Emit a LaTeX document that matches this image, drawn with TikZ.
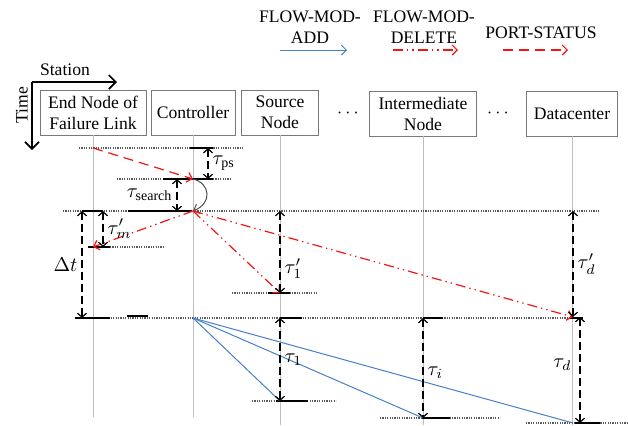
\documentclass[tikz,border=0pt]{standalone}
\usepackage{fontspec}
\setmainfont{Liberation Serif}
\usetikzlibrary{arrows.meta, positioning}
\definecolor{BleuAdd}{RGB}{70,128,200}
\definecolor{RougeMsg}{RGB}{245,20,20}
\definecolor{GrisVie}{RGB}{190,190,190}
\definecolor{GrisBoite}{RGB}{120,120,120}
\tikzset{boite/.style={rectangle, draw=GrisBoite, line width=0.4pt,
  align=center, minimum height=22.5pt, inner sep=1pt}}
\tikzset{vie/.style={draw=GrisVie, line width=0.4pt}}
\tikzset{niveau/.style={draw=black!65, line width=0.6pt, dash pattern=on 0.6pt off 0.6pt}}
\tikzset{seg/.style={draw=black, line width=0.9pt}}
\tikzset{mesure/.style={{Straight Barb[length=2pt,width=4.5pt]}-{Straight Barb[length=2pt,width=4.5pt]},
  draw=black, line width=0.6pt, dash pattern=on 4pt off 2pt}}
\tikzset{lab/.style={font=\fontsize{10}{12}\selectfont, inner sep=2pt}}
\tikzset{leg/.style={align=center, inner sep=1pt}}
\tikzset{fladd/.style={-{Straight Barb[length=2.5pt,width=5pt]}, draw=BleuAdd, line width=0.5pt}}
\tikzset{fldel/.style={-{Straight Barb[length=2.5pt,width=5pt]}, draw=RougeMsg, line width=0.6pt,
  dash pattern=on 5pt off 2pt on 0.7pt off 2pt on 0.7pt off 2pt}}
\tikzset{flps/.style={-{Straight Barb[length=2.5pt,width=5pt]}, draw=RougeMsg, line width=0.6pt,
  dash pattern=on 5pt off 3pt}}
\tikzset{axe/.style={-{Straight Barb[length=3.5pt,width=7pt]}, draw=black, line width=0.8pt}}

\begin{document}
\begin{tikzpicture}[x=0.5pt, y=-0.5pt, font=\fontsize{8.8}{10.5}\selectfont]
\useasboundingbox (0,0) rectangle (628,425);
% legende
\node[leg] (ladd) at (310,27) {FLOW-MOD-\\ADD};
\node[leg] (ldel) at (424,27) {FLOW-MOD-\\DELETE};
\node[leg] (lps) at (541,33) {PORT-STATUS};
\coordinate (la0) at (280,50); \coordinate (la1) at (347,50);
\coordinate (ld0) at (393,50); \coordinate (ld1) at (458,50);
\coordinate (lp0) at (503,50); \coordinate (lp1) at (568,50);
\draw[fladd] (la0)--(la1); \draw[fldel] (ld0)--(ld1); \draw[flps] (lp0)--(lp1);
% axes
\coordinate (orig) at (32,82); \coordinate (axS) at (117,82); \coordinate (axT) at (32,150);
\draw[axe] (orig)--(axS); \draw[axe] (orig)--(axT);
\node (station) at (65,70) {Station};
\node[rotate=90] (temps) at (22,105) {Time};
% postes
\node[boite, minimum width=53pt] (fin) at (93,112.5) {End Node of\\Failure Link};
\node[boite, minimum width=42pt] (ctl) at (193,112.5) {Controller};
\node[boite, minimum width=38.5pt] (src) at (280,112.5) {Source\\Node};
\node (pts1) at (348,113) {$\cdots$};
\node[boite, minimum width=53.5pt] (inter) at (423,113.5) {Intermediate\\Node};
\node (pts2) at (498,113) {$\cdots$};
\node[boite, minimum width=45.5pt] (dc) at (572,113.5) {Datacenter};
\coordinate (bas) at (0,417); \coordinate (bas2) at (0,425);
\draw[vie] (fin.south)--(fin.south |- bas); \draw[vie] (ctl.south)--(ctl.south |- bas);
\draw[vie] (src.south)--(src.south |- bas2); \draw[vie] (inter.south)--(inter.south |- bas2);
\draw[vie] (dc.south)--(dc.south |- bas2);
% niveaux de temps
\foreach \y/\a/\b in {148/79/243, 179/117/230, 211/63/600, 247/110/163, 293/232/317,
  318/106/582, 401/252/336, 418/380/500, 423/526/628}
  \draw[niveau] (\a,\y)--(\b,\y);
\foreach \y/\a/\b in {148/190/213, 179/163/213, 211/128/192, 211/82/103, 247/88/110,
  293/268/290, 318/75/110, 316/127/148, 318/280/302, 318/423/443, 318/570/583,
  401/276/308, 418/422/450, 423/575/600}
  \draw[seg] (\a,\y)--(\b,\y);
% evenements
\coordinate (f0) at (93,211); \coordinate (f1) at (93,148);
\coordinate (f2) at (93,247); \coordinate (f3) at (93,318);
\coordinate (c0) at (193,148); \coordinate (c1) at (193,179);
\coordinate (c2) at (193,211); \coordinate (c3) at (193,318);
\coordinate (s0) at (280,211); \coordinate (s1) at (280,293);
\coordinate (s3) at (280,318); \coordinate (s2) at (280,401);
\coordinate (i3) at (423,318); \coordinate (i2) at (423,418);
\coordinate (d0) at (573,211); \coordinate (d1) at (573,317); \coordinate (d2) at (573,423);
% messages
\draw[flps] (f1)--(c1);
\draw[-{Straight Barb[length=2.5pt,width=5pt]}, draw=black!70, line width=0.5pt]
  (c1) .. controls (210,183) and (213,203) .. (c2);
\draw[fldel] (c2)--(f2); \draw[fldel] (c2)--(s1); \draw[fldel] (c2)--(d1);
\draw[fladd, -] (c3)--(s2); \draw[fladd, -] (c3)--(i2); \draw[fladd, -] (c3)--(d2);
% durees
\draw[mesure] ([xshift=7.5pt]c0)--([xshift=7.5pt]c1) node[lab, midway, right] {$\tau_{\mathrm{ps}}$};
\draw[mesure] ([xshift=-8pt]c1)--([xshift=-8pt]c2) node[lab, midway, left] {$\tau_{\mathrm{search}}$};
\draw[mesure] ([xshift=5pt]f0)--([xshift=5pt]f2) node[lab, midway, right] {$\tau'_{m}$};
\draw[mesure] ([xshift=-5.5pt]f0)--([xshift=-5.5pt]f3) node[lab, midway, left] {$\Delta t$};
\draw[mesure] (s0)--(s1) node[lab, pos=0.7, right] {$\tau'_{1}$};
\draw[mesure] (d0)--(d1) node[lab, midway, right] {$\tau'_{d}$};
\draw[mesure] (s3)--(s2) node[lab, midway, right] {$\tau_{1}$};
\draw[mesure] (i3)--(i2) node[lab, pos=0.55, right] {$\tau_{i}$};
\draw[mesure] ([xshift=3.5pt]d1)--([xshift=3.5pt]d2) node[lab, pos=0.45, left, inner sep=4pt] {$\tau_{d}$};
\end{tikzpicture}
\end{document}
